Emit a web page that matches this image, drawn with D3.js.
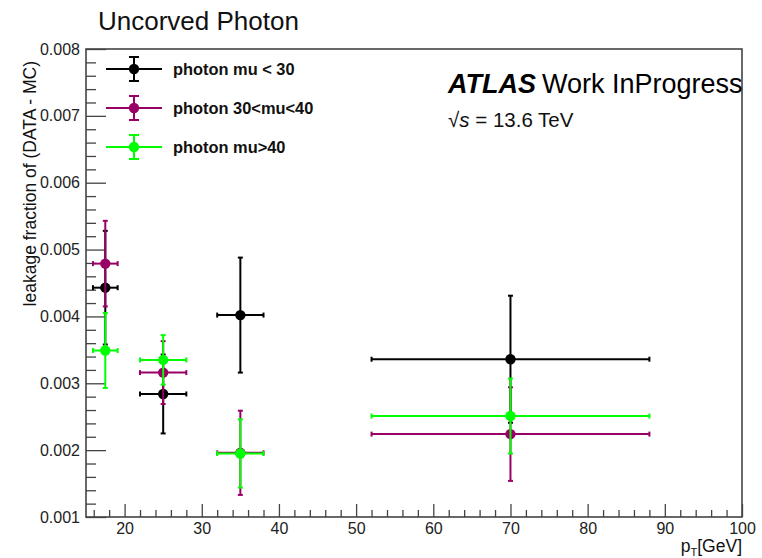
<!DOCTYPE html>
<html>
<head>
<meta charset="utf-8">
<script src="https://cdn.jsdelivr.net/npm/d3@7"></script>
<style>
  body { margin: 0; background: #fff; }
  svg { font-family: "Liberation Sans", Arial, Helvetica, sans-serif; }
</style>
</head>
<body>
<svg id="chart" width="762" height="558"></svg>
<script>
"use strict";

// frame corners (pixels)
const topLeftX = 86;
const topLeftY = 49;
const bottomRightX = 742;
const bottomRightY = 517;

// pT bin centres and half-widths
const ptCenters = [17.5, 25, 35, 70];
const ptHalfWidths = [1.6, 3, 3, 18];

// leakage fraction (DATA - MC) per pile-up bin
const muLow = [0.00443, 0.00284, 0.00402, 0.00336];
const muLowErr = [0.00085, 0.00059, 0.00086, 0.00095];
const muMid = [0.00479, 0.00316, 0.00196, 0.00224];
const muMidErr = [0.00064, 0.00047, 0.00063, 0.00070];
const muHigh = [0.00349, 0.00335, 0.00195, 0.00251];
const muHighErr = [0.00056, 0.00037, 0.00051, 0.00056];

const seriesNames = ["photon mu < 30", "photon 30<mu<40", "photon mu>40"];
const seriesColors = ["#000000", "#990066", "#00ff00"];

const yMajorTicks = [0.001, 0.002, 0.003, 0.004, 0.005, 0.006, 0.007, 0.008];
const xMajorTicks = [20, 30, 40, 50, 60, 70, 80, 90, 100];

function buildSeries(vals, errs, i) {
    return {
        name: seriesNames[i],
        color: seriesColors[i],
        points: vals.map((v, k) => ({ x: ptCenters[k], ex: ptHalfWidths[k], y: v, ey: errs[k] }))
    };
}

const series = [
    buildSeries(muLow, muLowErr, 0),
    buildSeries(muMid, muMidErr, 1),
    buildSeries(muHigh, muHighErr, 2)
];

const xScale = d3.scaleLinear().domain([15, 100]).range([topLeftX, bottomRightX]);
const yScale = d3.scaleLinear().domain([0.001, 0.008]).range([bottomRightY, topLeftY]);

const svg = d3.select("#chart");

// y axis: major + minor ticks pointing inside
let yMinor = d3.range(0.0012, 0.008, 0.0002).filter(v => Math.abs(v * 1000 - Math.round(v * 1000)) > 1e-6);
svg.append("g")
    .attr("transform", `translate(${topLeftX},0)`)
    .call(d3.axisLeft(yScale).tickValues(yMinor).tickSize(-10).tickFormat(""))
    .call(g => g.select(".domain").remove())
    .call(g => g.selectAll("line").attr("stroke", "#444").attr("stroke-width", 1.3));
svg.append("g")
    .attr("transform", `translate(${topLeftX},0)`)
    .call(d3.axisLeft(yScale).tickValues(yMajorTicks).tickSize(-20).tickPadding(6).tickFormat(d3.format(".3f")))
    .call(g => g.select(".domain").remove())
    .call(g => g.selectAll("line").attr("stroke", "#444").attr("stroke-width", 1.3))
    .call(g => g.selectAll("text").attr("font-size", 16).attr("fill", "#222")
        .attr("font-family", "'Liberation Sans', Arial, sans-serif"));

// x axis
let xMinor = d3.range(16, 100, 2).filter(v => v % 10 != 0);
svg.append("g")
    .attr("transform", `translate(0,${bottomRightY})`)
    .call(d3.axisBottom(xScale).tickValues(xMinor).tickSize(-7).tickFormat(""))
    .call(g => g.select(".domain").remove())
    .call(g => g.selectAll("line").attr("stroke", "#444").attr("stroke-width", 1.3));
svg.append("g")
    .attr("transform", `translate(0,${bottomRightY})`)
    .call(d3.axisBottom(xScale).tickValues(xMajorTicks).tickSize(-13).tickPadding(6).tickFormat(d3.format("d")))
    .call(g => g.select(".domain").remove())
    .call(g => g.selectAll("line").attr("stroke", "#444").attr("stroke-width", 1.3))
    .call(g => g.selectAll("text").attr("font-size", 16).attr("fill", "#222")
        .attr("font-family", "'Liberation Sans', Arial, sans-serif"));

// frame
svg.append("rect")
    .attr("x", topLeftX).attr("y", topLeftY)
    .attr("width", bottomRightX - topLeftX).attr("height", bottomRightY - topLeftY)
    .attr("fill", "none").attr("stroke", "#444").attr("stroke-width", 1.6);

// error bars + markers
const cap = 2.5;
series.forEach(function(s) {
    let g = svg.append("g").attr("stroke", s.color).attr("fill", s.color).attr("stroke-width", 2);
    s.points.forEach(function(p) {
        let cx = xScale(p.x), cy = yScale(p.y);
        let x0 = xScale(p.x - p.ex), x1 = xScale(p.x + p.ex);
        let y0 = yScale(p.y - p.ey), y1 = yScale(p.y + p.ey);
        g.append("line").attr("x1", x0).attr("x2", x1).attr("y1", cy).attr("y2", cy);
        g.append("line").attr("x1", cx).attr("x2", cx).attr("y1", y0).attr("y2", y1);
        g.append("line").attr("x1", x0).attr("x2", x0).attr("y1", cy - cap).attr("y2", cy + cap);
        g.append("line").attr("x1", x1).attr("x2", x1).attr("y1", cy - cap).attr("y2", cy + cap);
        g.append("line").attr("x1", cx - cap).attr("x2", cx + cap).attr("y1", y0).attr("y2", y0);
        g.append("line").attr("x1", cx - cap).attr("x2", cx + cap).attr("y1", y1).attr("y2", y1);
        g.append("circle").attr("cx", cx).attr("cy", cy).attr("r", 5.2).attr("stroke", "none");
    });
});

// legend
const legendY = [69, 108, 147];
series.forEach(function(s, i) {
    let ly = legendY[i];
    let g = svg.append("g").attr("stroke", s.color).attr("fill", s.color).attr("stroke-width", 2);
    g.append("line").attr("x1", 106).attr("x2", 162).attr("y1", ly).attr("y2", ly);
    g.append("line").attr("x1", 134).attr("x2", 134).attr("y1", ly - 12).attr("y2", ly + 12);
    g.append("line").attr("x1", 129).attr("x2", 139).attr("y1", ly - 12).attr("y2", ly - 12);
    g.append("line").attr("x1", 129).attr("x2", 139).attr("y1", ly + 12).attr("y2", ly + 12);
    g.append("circle").attr("cx", 134).attr("cy", ly).attr("r", 5.2).attr("stroke", "none");
    svg.append("text")
        .attr("x", 173).attr("y", ly + 5.5)
        .attr("font-size", 16.4).attr("font-weight", "bold").attr("fill", "#111")
        .text(s.name);
});

// texts
svg.append("text")
    .attr("x", 98).attr("y", 30)
    .attr("font-size", 26).attr("fill", "#111")
    .text("Uncorved Photon");

let atlas = svg.append("text").attr("x", 448).attr("y", 93).attr("font-size", 27).attr("fill", "#000");
atlas.append("tspan").attr("font-weight", "bold").attr("font-style", "italic").text("ATLAS");
atlas.append("tspan").attr("dx", 6).text("Work InProgress");

let sqrtText = svg.append("text").attr("x", 448).attr("y", 127).attr("font-size", 20.5).attr("fill", "#111");
sqrtText.append("tspan").text("\u221A");
sqrtText.append("tspan").attr("font-style", "italic").text("s");
sqrtText.append("tspan").text(" = 13.6 TeV");

svg.append("text")
    .attr("transform", `translate(36,${topLeftY + 12}) rotate(-90)`)
    .attr("text-anchor", "end")
    .attr("font-size", 17.5).attr("fill", "#111")
    .text("leakage fraction of (DATA - MC)");

let xTitle = svg.append("text")
    .attr("x", bottomRightX).attr("y", 552)
    .attr("text-anchor", "end")
    .attr("font-size", 17.5).attr("fill", "#111");
xTitle.append("tspan").text("p");
xTitle.append("tspan").attr("font-size", 11).attr("dy", 4).text("T");
xTitle.append("tspan").attr("dy", -4).text("[GeV]");
</script>
</body>
</html>
